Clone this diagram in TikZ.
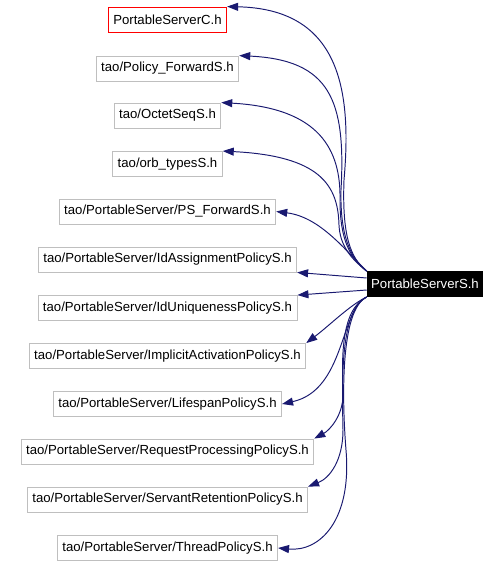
\documentclass[tikz,border=0pt]{standalone}
\usepackage{xcolor}
\usepackage{fontspec}
\setmainfont{Liberation Sans}
\usepackage{tikz}
\usetikzlibrary{calc,arrows.meta,positioning}

\definecolor{edgeblue}{HTML}{191970}
\definecolor{boxgray}{HTML}{BFBFBF}

\begin{document}
\begin{tikzpicture}[
    x=0.02cm, y=-0.02cm,
    box/.style={rectangle, draw=boxgray, line width=0.5pt, minimum height=0.5cm, inner xsep=0.1cm, font=\fontsize{7.5}{9}\selectfont},
    edge/.style={draw=edgeblue, line width=0.55pt, -{Triangle[length=0.22cm, width=0.16cm]}}
]
    \useasboundingbox (0,0) rectangle (502,566);

    % Source node
    \node[box, fill=black, text=white, draw=black, inner xsep=0.08cm] (psS) at (425,284) {PortableServerS.h};

    % Included headers
    \node[box, draw=red] (psC) at (167.5,19.5) {PortableServerC.h};
    \node[box] (policyfwd) at (167.5,68.5) {tao/Policy\_ForwardS.h};
    \node[box] (octetseq) at (167.5,115.5) {tao/OctetSeqS.h};
    \node[box] (orbtypes) at (167.5,164) {tao/orb\_typesS.h};
    \node[box] (psfwd) at (167.5,211.5) {tao/PortableServer/PS\_ForwardS.h};
    \node[box] (idassign) at (167.5,259.5) {tao/PortableServer/IdAssignmentPolicyS.h};
    \node[box] (iduniq) at (167.5,308) {tao/PortableServer/IdUniquenessPolicyS.h};
    \node[box] (implicit) at (167.5,356) {tao/PortableServer/ImplicitActivationPolicyS.h};
    \node[box] (lifespan) at (167.5,404) {tao/PortableServer/LifespanPolicyS.h};
    \node[box] (reqproc) at (167.5,451.5) {tao/PortableServer/RequestProcessingPolicyS.h};
    \node[box] (servant) at (167.5,499.5) {tao/PortableServer/ServantRetentionPolicyS.h};
    \node[box] (thread) at (167.5,548) {tao/PortableServer/ThreadPolicyS.h};

    % Draw connections (upper)
    \draw[edge] (psS.north west) .. controls (350,258) and (342,235) .. (344,180)
        .. controls (352,90) and (340,9) .. (psC.north east);
    \draw[edge] (psS.north west) .. controls (350,258) and (340,235) .. (341,190)
        .. controls (346,100) and (330,60) .. (policyfwd.north east);
    \draw[edge] (psS.north west) .. controls (350,258) and (340,240) .. (340,200)
        .. controls (341,150) and (320,108) .. (octetseq.north east);
    \draw[edge] (psS.north west) .. controls (350,258) and (340,245) .. (339,225)
        .. controls (338,185) and (320,156) .. (orbtypes.north east);
    \draw[edge] (psS.north west) .. controls (345,250) and (320,217) .. (psfwd.east);
    \draw[edge] ($(psS.west)+(0,-6)$) -- (idassign.south east);
    \draw[edge] ($(psS.west)+(0,6)$) -- (iduniq.north east);

    % Draw connections (lower)
    \draw[edge] (psS.south west) .. controls (350,305) and (330,325) .. (implicit.north east);
    \draw[edge] (psS.south west) .. controls (340,310) and (345,390) .. (lifespan.east);
    \draw[edge] (psS.south west) .. controls (340,310) and (342,360) .. (343,395)
        .. controls (343,415) and (330,430) .. (reqproc.north east);
    \draw[edge] (psS.south west) .. controls (340,310) and (342,380) .. (343,430)
        .. controls (343,460) and (330,478) .. (servant.north east);
    \draw[edge] (psS.south west) .. controls (340,310) and (342,400) .. (346,450)
        .. controls (352,520) and (320,552) .. (thread.east);
\end{tikzpicture}
\end{document}
